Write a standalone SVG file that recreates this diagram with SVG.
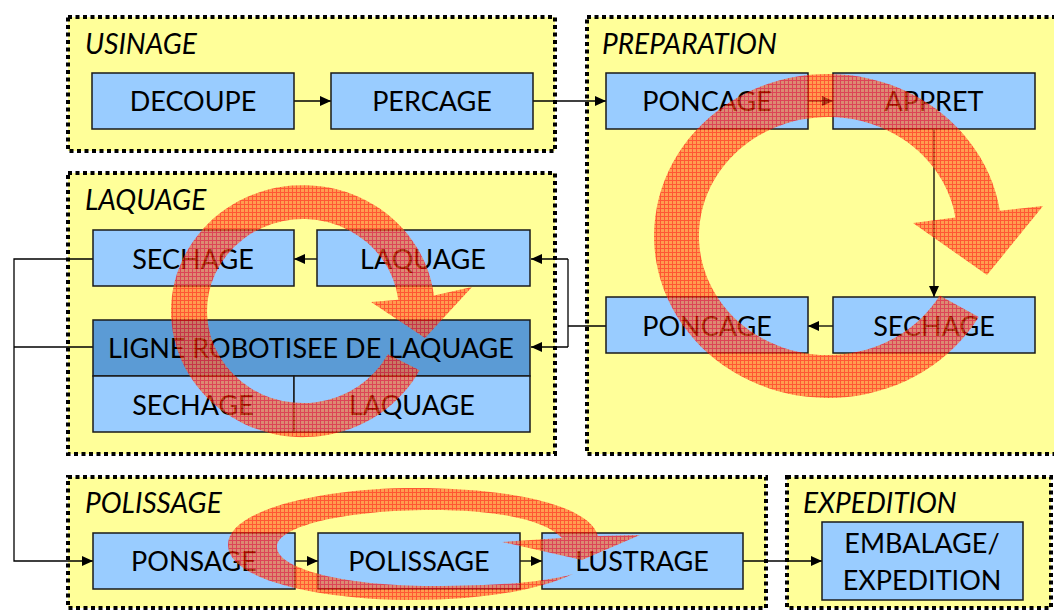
<svg xmlns="http://www.w3.org/2000/svg" width="1054" height="611" viewBox="0 0 1054 611">
<defs>
<style>
.grp{fill:#FFFF99;stroke:#000;stroke-width:4;stroke-dasharray:4 3.5}
.box{fill:#99CCFF;stroke:#1a1a1a;stroke-width:1.5}
.dark{fill:#5B9BD5;stroke:#1a1a1a;stroke-width:1.5}
.t{font-family:Lato,"Liberation Sans",sans-serif;font-size:27px;fill:#000;text-anchor:middle}
.g{font-family:Lato,"Liberation Sans",sans-serif;font-size:28px;font-style:italic;fill:#000}
.c{fill:none;stroke:#000;stroke-width:1.3}
.red{fill:url(#hatch)}
</style>
<marker id="ah" markerUnits="userSpaceOnUse" markerWidth="12" markerHeight="10" refX="11" refY="5" orient="auto">
<path d="M0,0 L11,5 L0,10 Z" fill="#000"/>
</marker>
<pattern id="hatch" patternUnits="userSpaceOnUse" width="4" height="4">
<rect width="4" height="4" fill="#FF6A2A"/>
<path d="M0,0.5 H4 M0.5,0 V4" stroke="#FF0000" stroke-width="1"/>
</pattern>
</defs>
<rect width="1054" height="611" fill="#fff"/>

<g id="grp-usinage"><rect class="grp" x="68" y="17" width="487" height="134"/><text class="g" x="85" y="54">USINAGE</text></g>
<g id="grp-preparation"><rect class="grp" x="587" y="17" width="500" height="437"/><text class="g" x="602" y="54">PREPARATION</text></g>
<g id="grp-laquage"><rect class="grp" x="68" y="173" width="487" height="281"/><text class="g" x="85" y="210">LAQUAGE</text></g>
<g id="grp-polissage"><rect class="grp" x="68" y="477" width="698" height="131"/><text class="g" x="85" y="513">POLISSAGE</text></g>
<g id="grp-expedition"><rect class="grp" x="787" y="477" width="264" height="131"/><text class="g" x="803" y="513">EXPEDITION</text></g>

<g id="connectors">
<path class="c" d="M294,101 H331" marker-end="url(#ah)"/>
<path class="c" d="M533,101 H606" marker-end="url(#ah)"/>
<path class="c" d="M808,101 H833" marker-end="url(#ah)"/>
<path class="c" d="M934,129 V297" marker-end="url(#ah)"/>
<path class="c" d="M833,326 H808" marker-end="url(#ah)"/>
<path class="c" d="M606,326 H568"/>
<path class="c" d="M568,259 V347"/>
<path class="c" d="M568,259 H531" marker-end="url(#ah)"/>
<path class="c" d="M568,347 H531" marker-end="url(#ah)"/>
<path class="c" d="M317,259 H294" marker-end="url(#ah)"/>
<path class="c" d="M93,259 H14 V561 H93" marker-end="url(#ah)"/>
<path class="c" d="M93,347 H14"/>
<path class="c" d="M295,561 H318" marker-end="url(#ah)"/>
<path class="c" d="M520,561 H542" marker-end="url(#ah)"/>
<path class="c" d="M743,561 H822" marker-end="url(#ah)"/>
</g>

<g id="n-decoupe"><rect class="box" x="92" y="73" width="202" height="56"/><text class="t" x="193" y="111">DECOUPE</text></g>
<g id="n-percage"><rect class="box" x="331" y="73" width="202" height="56"/><text class="t" x="432" y="111">PERCAGE</text></g>
<g id="n-poncage1"><rect class="box" x="606" y="73" width="202" height="56"/><text class="t" x="707" y="111">PONCAGE</text></g>
<g id="n-appret"><rect class="box" x="833" y="73" width="202" height="56"/><text class="t" x="934" y="111">APPRET</text></g>
<g id="n-sechage-p"><rect class="box" x="833" y="297" width="202" height="56"/><text class="t" x="934" y="336">SECHAGE</text></g>
<g id="n-poncage2"><rect class="box" x="606" y="297" width="202" height="56"/><text class="t" x="707" y="336">PONCAGE</text></g>
<g id="n-sechage-l"><rect class="box" x="93" y="230" width="201" height="56"/><text class="t" x="193" y="269">SECHAGE</text></g>
<g id="n-laquage-l"><rect class="box" x="317" y="230" width="213" height="56"/><text class="t" x="423" y="269">LAQUAGE</text></g>
<g id="n-ligne"><rect class="dark" x="93" y="320" width="437" height="56"/><text class="t" x="311" y="358">LIGNE ROBOTISEE DE LAQUAGE</text>
<rect class="box" x="93" y="376" width="201" height="56"/><text class="t" x="193" y="415">SECHAGE</text>
<rect class="box" x="294" y="376" width="236" height="56"/><text class="t" x="412" y="415">LAQUAGE</text></g>
<g id="n-ponsage"><rect class="box" x="93" y="533" width="202" height="56"/><text class="t" x="194" y="571">PONSAGE</text></g>
<g id="n-polissage"><rect class="box" x="318" y="533" width="202" height="56"/><text class="t" x="419" y="571">POLISSAGE</text></g>
<g id="n-lustrage"><rect class="box" x="542" y="533" width="201" height="56"/><text class="t" x="642" y="571">LUSTRAGE</text></g>
<g id="n-embalage"><rect class="box" x="822" y="522" width="201" height="78"/><text class="t" x="922" y="553">EMBALAGE/</text><text class="t" x="922" y="590">EXPEDITION</text></g>

<g id="cycle-arrows" opacity="0.66">
<path class="red" d="M978.7,317 A174,162 0 1 1 999.9,210.7 L1043,206 L987,275 L913,223 L955.4,217.4 A129,119 0 1 0 939.7,295.5 Z"/>
<path class="red" d="M419.6,370.2 A132,126 0 1 1 434,295.6 L472,287 L425,338 L371,302 L398.3,299.8 A96,92 0 1 0 387.8,354.2 Z"/>
<path class="red" d="M573,574 C540,590 480,600 415,600 C320,600 228,580 228,545 C228,510 320,488 415,488 C510,488 590,505 598,536 L640,535 L582,560 L502,542 L562,538 C545,520 500,510 431,510 C350,510 277,525 277,547 C277,570 350,586 431,586 C500,586 545,582 573,574 Z"/>
</g>
</svg>
